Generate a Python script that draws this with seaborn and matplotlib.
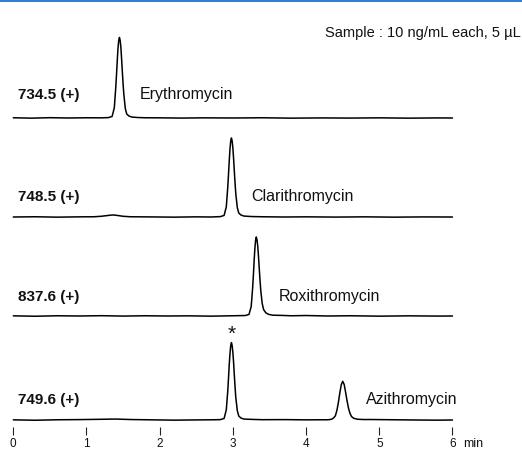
import numpy as np
import matplotlib
matplotlib.use("Agg")
import matplotlib.pyplot as plt
import seaborn as sns
from matplotlib.lines import Line2D

sns.set_style("white")
plt.rcParams["font.family"] = ["Liberation Sans", "DejaVu Sans"]

# ---- data: retention time (min) and detector response (arbitrary units) ----
ery_time = [0.0, 0.25, 0.5, 0.75, 1.0, 1.2, 1.30, 1.35, 1.38, 1.40, 1.41, 1.42, 1.43,
            1.44, 1.45, 1.46, 1.47, 1.48, 1.49, 1.50, 1.51, 1.53, 1.55, 1.58, 1.62,
            1.7, 1.8, 2.0, 2.3, 2.6, 3.0, 3.4, 3.8, 4.2, 4.6, 5.0, 5.4, 5.8, 6.0]
ery_resp = [0.3, -0.2, 0.4, 0.0, 0.3, 0.2, 0.5, 2.0, 13, 39, 55, 72, 88,
            98, 102, 98, 89, 74, 58, 43, 30, 12, 5.0, 2.5, 1.2,
            0.6, 0.3, 0.2, -0.1, 0.2, 0.0, 0.3, -0.2, 0.1, -0.1, 0.2, -0.2, 0.1, 0.0]

cla_time = [0.0, 0.3, 0.6, 0.9, 1.1, 1.2, 1.3, 1.36, 1.42, 1.5, 1.6, 1.9, 2.2, 2.5, 2.7,
            2.83, 2.88, 2.91, 2.93, 2.94, 2.95, 2.96, 2.97, 2.98, 2.99, 3.00, 3.01,
            3.02, 3.03, 3.04, 3.06, 3.08, 3.11, 3.15, 3.25, 3.4, 3.7, 4.0, 4.4, 4.8,
            5.2, 5.6, 6.0]
cla_resp = [0.0, 0.3, -0.2, 0.2, 0.3, 0.9, 2.0, 2.6, 2.0, 0.9, 0.3, 0.1, -0.2, 0.2, 0.0,
            0.5, 2.0, 13, 38, 54, 71, 86, 96, 100, 96, 87, 73,
            57, 42, 29, 12, 5.0, 2.5, 1.2, 0.6, 0.3, 0.0, 0.2, -0.1, 0.2,
            -0.2, 0.1, 0.0]

rox_time = [0.0, 0.3, 0.6, 0.9, 1.2, 1.5, 1.8, 2.1, 2.4, 2.7, 3.0, 3.17, 3.22, 3.25,
            3.27, 3.28, 3.29, 3.30, 3.31, 3.32, 3.33, 3.34, 3.35, 3.36, 3.37, 3.38,
            3.40, 3.42, 3.45, 3.49, 3.55, 3.65, 3.8, 4.0, 4.3, 4.6, 5.0, 5.4, 5.8, 6.0]
rox_resp = [0.2, -0.3, 0.3, 0.0, 0.4, -0.1, 0.3, 0.0, 0.2, -0.2, 0.3, 0.6, 2.0, 12,
            36, 52, 70, 85, 96, 100, 96, 88, 75, 60, 46, 33,
            16, 8.0, 4.0, 2.0, 1.0, 0.8, 0.3, 0.6, 0.0, 0.3, -0.2, 0.2, -0.1, 0.0]

azi_time = [0.0, 0.3, 0.6, 0.9, 1.2, 1.4, 1.6, 1.9, 2.2, 2.5, 2.75,
            2.83, 2.88, 2.91, 2.93, 2.94, 2.95, 2.96, 2.97, 2.98, 2.99, 3.00, 3.01,
            3.02, 3.03, 3.04, 3.06, 3.08, 3.11, 3.15, 3.25, 3.4, 3.7, 4.0, 4.2,
            4.30, 4.35, 4.38, 4.40, 4.42, 4.44, 4.46, 4.48, 4.50, 4.52, 4.54, 4.56,
            4.58, 4.60, 4.62, 4.65, 4.70, 4.78, 4.9, 5.2, 5.5, 5.8, 6.0]
azi_resp = [0.2, -0.3, 0.3, 0.5, 0.9, 1.2, 0.6, 0.2, -0.2, 0.1, 0.3,
            0.5, 2.0, 13, 37, 53, 70, 84, 94, 98, 94, 85, 72,
            56, 41, 28, 12, 5.0, 2.5, 1.2, 0.8, 0.4, 0.5, 0.2, 0.3,
            0.3, 1.0, 3.0, 5.4, 11.8, 21.6, 33.8, 44.6, 49, 45, 35, 24,
            14.7, 8.3, 4.4, 2.2, 1.0, 0.6, 0.6, 0.3, 0.0, -0.2, 0.0]

channels = ["734.5 (+)", "748.5 (+)", "837.6 (+)", "749.6 (+)"]
compounds = ["Erythromycin", "Clarithromycin", "Roxithromycin", "Azithromycin"]
traces = [(ery_time, ery_resp), (cla_time, cla_resp),
          (rox_time, rox_resp), (azi_time, azi_resp)]
tick_values = [0, 1, 2, 3, 4, 5, 6]
marked_peak_time = 2.98
marked_peak_resp = 98

# ---- layout (vertical positions in pixels from the top of the figure) ----
W, H = 522, 450
DPI = 100
x0_px, px_per_min = 13.3, 73.2
baselines = [118, 217, 316, 420]
label_baselines = [99, 201, 301, 404]
compound_x = [140, 251, 279, 366]
scale = 0.79  # pixels per response unit

fig = plt.figure(figsize=(W / DPI, H / DPI), dpi=DPI)
ax = fig.add_axes([0, 15 / H, 1, 435 / H])
ax.set_xlim(-x0_px / px_per_min, (W - x0_px) / px_per_min)
ax.set_ylim(435, 0)

for (t, r), base in zip(traces, baselines):
    y = base - scale * np.asarray(r, dtype=float)
    sns.lineplot(x=np.asarray(t), y=y, ax=ax, color="black", linewidth=1.1,
                 sort=False, estimator=None)

for lab, comp, base_y, cx in zip(channels, compounds, label_baselines, compound_x):
    fig.text(18 / W, 1 - base_y / H, lab, fontsize=11, fontweight="bold",
             va="baseline", ha="left", color="#111111")
    fig.text(cx / W, 1 - base_y / H, comp, fontsize=11.5, va="baseline",
             ha="left", color="#111111")

# asterisk above the first peak of the last channel
ax.text(marked_peak_time, baselines[3] - scale * marked_peak_resp - 8, "*",
        fontsize=15, ha="center", va="center", color="#111111")

fig.text(325 / W, 1 - 33 / H, "Sample : 10 ng/mL each, 5 µL", fontsize=10.5,
         va="center", ha="left", color="#111111")

# time axis: short upward ticks, no spine
for s in ax.spines.values():
    s.set_visible(False)
ax.set_yticks([])
ax.set_xticks(tick_values)
ax.set_xticklabels([str(v) for v in tick_values])
ax.tick_params(axis="x", direction="in", length=5.5, width=0.8, color="#222222",
               labelsize=8.5, pad=2, bottom=True, labelcolor="#111111")
ax.set_xlabel("")
ax.set_ylabel("")
fig.text(463 / W, 1 - 447 / H, "min", fontsize=9, va="baseline", ha="left",
         color="#111111")

# thin blue rule across the top
fig.add_artist(Line2D([0, 1], [1 - 0.8 / H, 1 - 0.8 / H], color="#2f7bd0",
                      linewidth=1.4, transform=fig.transFigure))

fig.savefig("out.png", dpi=DPI)
